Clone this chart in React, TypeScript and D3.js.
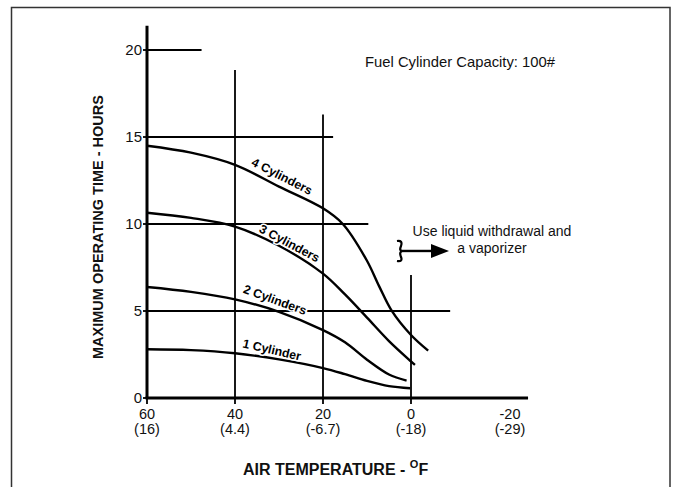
import React, { useEffect } from "react";
import * as d3 from "d3";

// temperatures in °F, hours
const temps4 = [60, 50, 40, 30, 20, 15.5, 10.1, 7.2, 4.4, 0, -3.9];
const hours4 = [14.5, 14.1, 13.4, 12.15, 10.9, 10.0, 7.93, 6.4, 5.02, 3.62, 2.72];

const temps3 = [60, 50, 40, 30, 20, 15, 10, 5, 0, -0.9];
const hours3 = [10.65, 10.35, 9.85, 8.75, 7.15, 5.95, 4.62, 3.27, 2.1, 1.9];

const temps2 = [60, 50, 40, 30, 20, 15, 10, 5, 1];
const hours2 = [6.38, 6.1, 5.67, 4.95, 3.9, 3.2, 2.2, 1.35, 1.0];

const temps1 = [60, 50, 40, 30, 20, 15, 10, 5, 0.2];
const hours1 = [2.8, 2.75, 2.57, 2.22, 1.72, 1.37, 0.98, 0.68, 0.56];

const seriesNames = ["4 Cylinders", "3 Cylinders", "2 Cylinders", "1 Cylinder"];

const xTicksF = [60, 40, 20, 0, -20];
const xLabelsF = ["60", "40", "20", "0", "-20"];
const xLabelsC = ["(16)", "(4.4)", "(-6.7)", "(-18)", "(-29)"];
const yTicks = [0, 5, 10, 15, 20];

// partial grid lines: [value, where it stops]
const hGrid = [
  [20, 47.6],
  [15, 17.7],
  [10, 9.7],
  [5, -8.9],
];
const vGrid = [
  [40, 18.85],
  [20, 16.3],
  [0, 7.07],
];

// label anchors (temp, hours) and angle
const labelPos = [
  [29.3, 12.75, 27],
  [27.6, 8.9, 28],
  [30.9, 5.65, 20],
  [31.6, 2.78, 13],
];

const W = 673;
const H = 487;

export default function App() {
  useEffect(() => {
    document.body.style.margin = "0";
  }, []);

  const x = d3.scaleLinear().domain([60, 0]).range([147, 411]);
  const y = d3.scaleLinear().domain([0, 20]).range([398, 50]);

  const line = d3
    .line<[number, number]>()
    .x((d) => x(d[0]))
    .y((d) => y(d[1]))
    .curve(d3.curveCatmullRom.alpha(0.5));

  const series = [
    d3.zip(temps4, hours4),
    d3.zip(temps3, hours3),
    d3.zip(temps2, hours2),
    d3.zip(temps1, hours1),
  ] as [number, number][][];

  const font = "'Liberation Sans', Arial, sans-serif";
  const ax = x(0); // arrow anchor
  const ay = y(8.45);

  return (
    <svg width={W} height={H} style={{ display: "block", background: "#fff" }} fontFamily={font}>
      <rect x={11.5} y={7.5} width={658.5} height={500} fill="none" stroke="#333" strokeWidth={1.5} />

      {/* partial grid */}
      {hGrid.map(([v, to], i) => (
        <line key={"h" + i} x1={x(60)} x2={x(to)} y1={y(v)} y2={y(v)} stroke="#000" strokeWidth={1.8} />
      ))}
      {vGrid.map(([t, to], i) => (
        <line key={"v" + i} x1={x(t)} x2={x(t)} y1={y(0)} y2={y(to)} stroke="#000" strokeWidth={1.8} />
      ))}

      {/* axes */}
      <line x1={x(60)} x2={x(60)} y1={y(0)} y2={y(21.4)} stroke="#000" strokeWidth={3} />
      <line x1={x(60) - 1.5} x2={x(-26.6)} y1={y(0)} y2={y(0)} stroke="#000" strokeWidth={3} />

      {yTicks.map((t) => (
        <g key={"yt" + t}>
          <line x1={x(60) - 4} x2={x(60)} y1={y(t)} y2={y(t)} stroke="#000" strokeWidth={1.8} />
          <text x={x(60) - 5} y={y(t)} dy="0.36em" textAnchor="end" fontSize={15} fill="#111">
            {t}
          </text>
        </g>
      ))}

      {xTicksF.map((t, i) => {
        const px = x(t) + (t === -20 ? 11 : 0);
        return (
          <g key={"xt" + t}>
            {t !== -20 && (
              <line x1={x(t)} x2={x(t)} y1={y(0)} y2={y(0) + 6} stroke="#000" strokeWidth={1.8} />
            )}
            <text x={px} y={419} textAnchor="middle" fontSize={14.5} fill="#111">
              {xLabelsF[i]}
            </text>
            <text x={px} y={434} textAnchor="middle" fontSize={14.5} fill="#111">
              {xLabelsC[i]}
            </text>
          </g>
        );
      })}

      {/* curves */}
      {series.map((s, i) => (
        <path key={"s" + i} d={line(s) || ""} fill="none" stroke="#000" strokeWidth={2.4} />
      ))}

      {/* curve labels */}
      {seriesNames.map((n, i) => {
        const [t, h, a] = labelPos[i];
        return (
          <text
            key={"l" + i}
            transform={`translate(${x(t)},${y(h)}) rotate(${a})`}
            textAnchor="middle"
            dy="0.35em"
            fontSize={12.3}
            fontWeight="bold"
            fill="#000"
            stroke="#fff"
            strokeWidth={3}
            paintOrder="stroke"
          >
            {n}
          </text>
        );
      })}

      {/* note + arrow */}
      <text x={365} y={67} fontSize={14.8} fill="#111">
        Fuel Cylinder Capacity: 100#
      </text>
      <text x={492} y={236} textAnchor="middle" fontSize={14} fill="#111">
        Use liquid withdrawal and
      </text>
      <text x={492} y={253} textAnchor="middle" fontSize={14} fill="#111">
        a vaporizer
      </text>
      <path
        d={`M${ax - 14},${ay - 10} Q${ax - 8},${ay - 11} ${ax - 10},${ay - 5} Q${ax - 12},${ay} ${ax - 9},${ay}
           Q${ax - 12},${ay + 1} ${ax - 10},${ay + 6} Q${ax - 8},${ay + 11} ${ax - 14},${ay + 10}`}
        fill="none"
        stroke="#000"
        strokeWidth={2.2}
      />
      <line x1={ax - 10} x2={ax + 22} y1={ay} y2={ay} stroke="#000" strokeWidth={2.4} />
      <path d={`M${ax + 20},${ay - 7} L${ax + 38},${ay} L${ax + 20},${ay + 7} Z`} fill="#000" />

      {/* axis titles */}
      <text
        transform={`translate(103,227) rotate(-90)`}
        textAnchor="middle"
        fontSize={14.5}
        fontWeight="bold"
        fill="#111"
      >
        MAXIMUM OPERATING TIME - HOURS
      </text>
      <text x={243} y={475} fontSize={16} fontWeight="bold" fill="#111">
        AIR TEMPERATURE -{" "}
        <tspan fontSize={11} dy={-7}>
          O
        </tspan>
        <tspan fontSize={16} dy={7}>
          F
        </tspan>
      </text>
    </svg>
  );
}
